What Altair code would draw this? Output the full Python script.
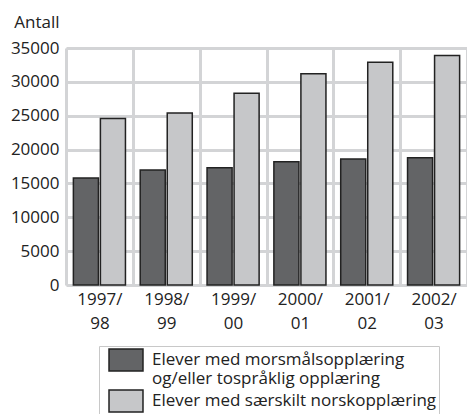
import altair as alt
import pandas as pd

years = ["1997/98", "1998/99", "1999/00", "2000/01", "2001/02", "2002/03"]
series = [
    "Elever med morsmålsopplæring\nog/eller tospråklig opplæring",
    "Elever med særskilt norskopplæring",
]
morsmal = [15800, 17000, 17300, 18200, 18600, 18800]
norsk = [24600, 25400, 28300, 31200, 32900, 33900]
colors = ["#636466", "#c6c7c9"]
y_ticks = [0, 5000, 10000, 15000, 20000, 25000, 30000, 35000]

rows = []
for i, yr in enumerate(years):
    rows.append({"year": yr, "series": series[0], "value": morsmal[i]})
    rows.append({"year": yr, "series": series[1], "value": norsk[i]})
df = pd.DataFrame(rows)

FONT = "Open Sans"
GRID = "#d3d4d6"

chart = alt.Chart(df).mark_bar(stroke="#222222", strokeWidth=1.5).encode(
    x=alt.X(
        "year:N",
        sort=years,
        scale=alt.Scale(paddingInner=0, paddingOuter=0),
        axis=alt.Axis(
            title=None,
            labelAngle=0,
            tickBand="extent",
            grid=True,
            gridColor=GRID,
            gridWidth=3,
            ticks=False,
            tickSize=0,
            domain=False,
            labelExpr="[substring(datum.label, 0, 5), substring(datum.label, 5)]",
            labelFontSize=17,
            labelFont=FONT,
            labelColor="#222222",
            labelPadding=6,
            labelLineHeight=24,
            labelBaseline="top",
        ),
    ),
    xOffset=alt.XOffset(
        "series:N",
        sort=series,
        scale=alt.Scale(paddingInner=0.073, paddingOuter=0.273),
    ),
    y=alt.Y(
        "value:Q",
        scale=alt.Scale(domain=[0, 35000], nice=False),
        axis=alt.Axis(
            values=y_ticks,
            format="d",
            title="Antall",
            titleAngle=0,
            titleX=-7,
            titleY=-26,
            titleAlign="right",
            titleBaseline="middle",
            titleFont=FONT,
            titleFontSize=17,
            titleFontWeight="normal",
            titleColor="#222222",
            grid=True,
            gridColor=GRID,
            gridWidth=3,
            ticks=False,
            tickSize=0,
            domain=False,
            labelFont=FONT,
            labelFontSize=17,
            labelColor="#222222",
            labelPadding=7,
        ),
    ),
    color=alt.Color(
        "series:N",
        sort=series,
        scale=alt.Scale(domain=series, range=colors),
        legend=alt.Legend(
            title=None,
            orient="none",
            legendX=33,
            legendY=298,
            direction="vertical",
            symbolType="M-1.545,-1H1.545V1H-1.545Z",
            symbolSize=484,
            symbolStrokeColor="#222222",
            symbolStrokeWidth=1.5,
            symbolOpacity=1,
            labelFont=FONT,
            labelFontSize=17,
            labelColor="#222222",
            labelOffset=14,
            labelExpr="split(datum.label, '\\n')",
            labelLimit=400,
            strokeColor="#c8c8c8",
            padding=2,
            symbolOffset=13,
            rowPadding=0,
        ),
    ),
).properties(
    width=401,
    height=237,
    autosize=alt.AutoSizeParams(type="none"),
    padding={"left": 58, "top": 40, "right": 0, "bottom": 130},
).configure_view(
    stroke=GRID, strokeWidth=3
).configure(
    font=FONT
)

chart.save("out.html", embed_options={"renderer": "svg", "actions": False})
